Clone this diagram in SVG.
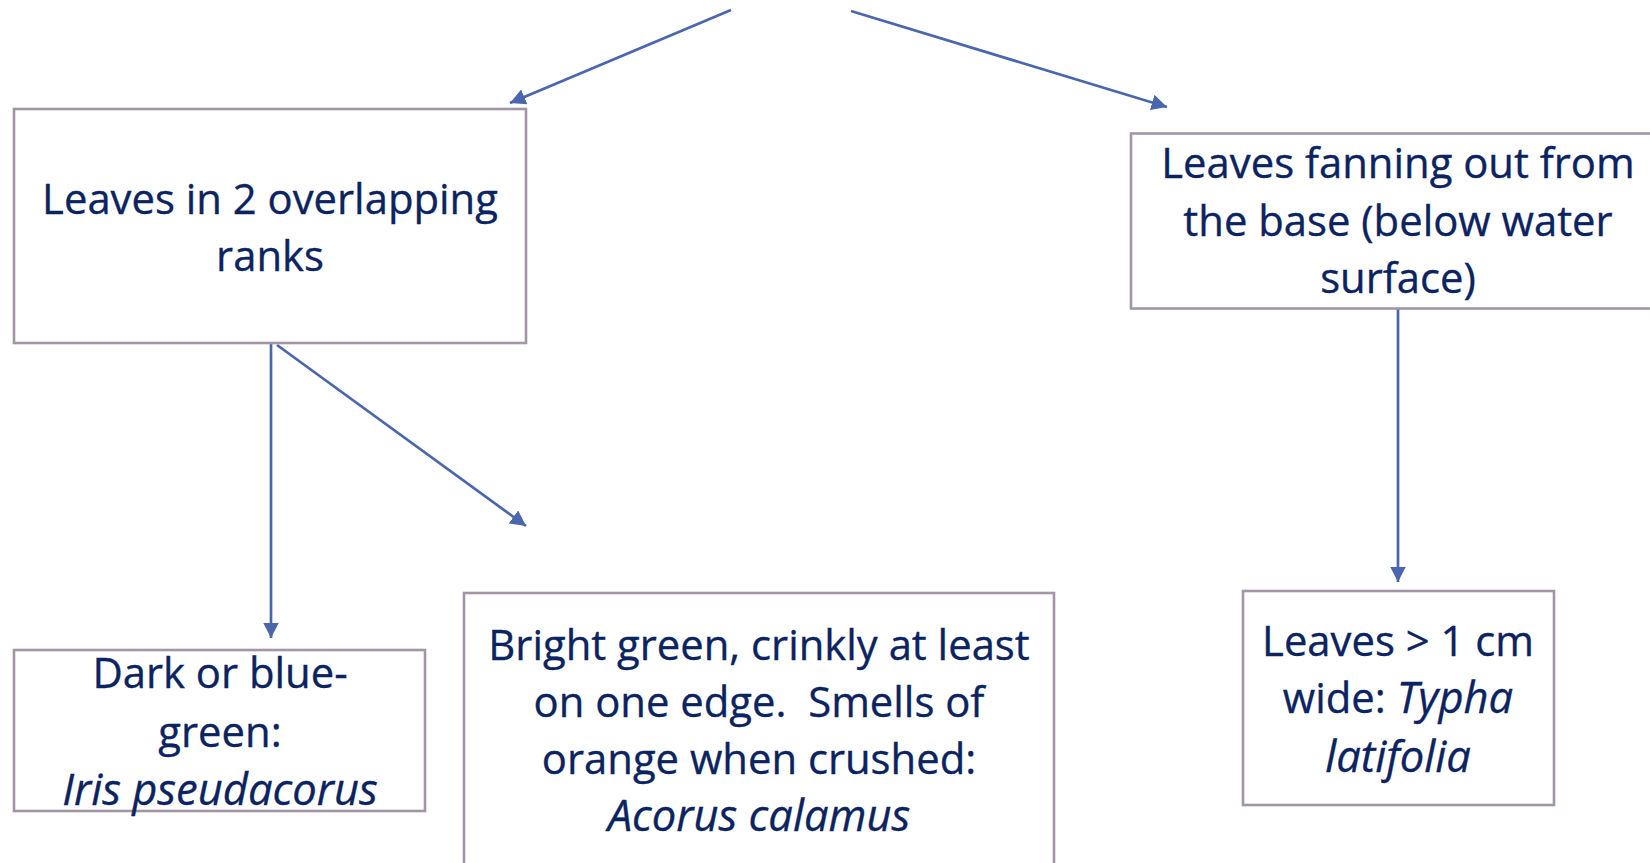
<svg xmlns="http://www.w3.org/2000/svg" width="1650" height="863" viewBox="0 0 1650 863">
  <style>
    .box { fill: #ffffff; stroke: #A195A6; stroke-width: 2.6; }
    .lbl { font-family: "Open Sans", "Noto Sans", sans-serif; font-size: 41.8px; fill: #0B2361; text-anchor: middle; stroke: #0B2361; stroke-width: 0.35; }
    .it { font-style: italic; font-size: 43.5px; }
    .conn { stroke: #4A66AD; stroke-width: 2.7; fill: none; marker-end: url(#head); }
  </style>
  <defs>
    <marker id="head" markerUnits="userSpaceOnUse" markerWidth="17" markerHeight="17" refX="15.5" refY="8" orient="auto">
      <path d="M0,0 L15.5,8 L0,16 Z" fill="#4A66AD"/>
    </marker>
  </defs>
  <rect width="1650" height="863" fill="#ffffff"/>

  <!-- connectors -->
  <g id="connectors">
    <line class="conn" x1="731" y1="10" x2="510" y2="103"/>
    <line class="conn" x1="851" y1="11" x2="1167" y2="107"/>
    <line class="conn" x1="271" y1="344" x2="271" y2="638"/>
    <line class="conn" x1="277" y1="345" x2="526" y2="526"/>
    <line class="conn" x1="1398" y1="308" x2="1398" y2="582"/>
  </g>

  <!-- two ranks of leaves -->
  <g id="node-ranks">
    <rect class="box" x="14" y="109" width="512" height="234"/>
    <text class="lbl" x="270" y="214">Leaves in 2 overlapping</text>
    <text class="lbl" x="270" y="271">ranks</text>
  </g>

  <!-- leaves fanning from base -->
  <g id="node-fanning">
    <rect class="box" x="1131" y="133.5" width="560" height="175"/>
    <text class="lbl" x="1398" y="178">Leaves fanning out from</text>
    <text class="lbl" x="1398" y="236">the base (below water</text>
    <text class="lbl" x="1398" y="293">surface)</text>
  </g>

  <!-- Iris -->
  <g id="node-iris">
    <rect class="box" x="14" y="650" width="411" height="161"/>
    <text class="lbl" x="220" y="688">Dark or blue-</text>
    <text class="lbl" x="220" y="747">green:</text>
    <text class="lbl it" x="220" y="805">Iris pseudacorus</text>
  </g>

  <!-- Acorus -->
  <g id="node-acorus">
    <rect class="box" x="464" y="593" width="590" height="300"/>
    <text class="lbl" x="759" y="660">Bright green, crinkly at least</text>
    <text class="lbl" x="759" y="717" xml:space="preserve">on one edge.  Smells of</text>
    <text class="lbl" x="759" y="774">orange when crushed:</text>
    <text class="lbl it" x="759" y="831">Acorus calamus</text>
  </g>

  <!-- Typha -->
  <g id="node-typha">
    <rect class="box" x="1243" y="591" width="311" height="214"/>
    <text class="lbl" x="1398" y="656">Leaves &gt; 1 cm</text>
    <text class="lbl" x="1398" y="713">wide: <tspan class="it">Typha</tspan></text>
    <text class="lbl it" x="1398" y="772">latifolia</text>
  </g>
</svg>
